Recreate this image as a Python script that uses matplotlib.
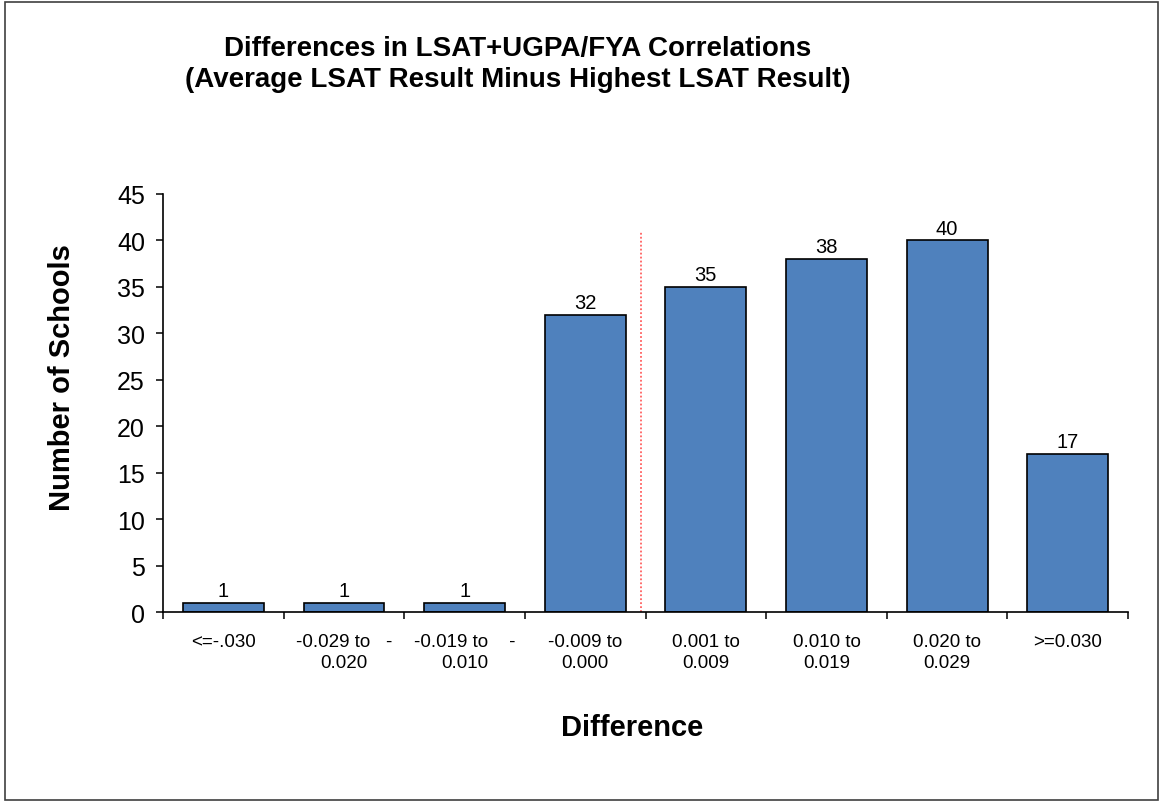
import numpy as np
import matplotlib.pyplot as plt

categories = ["<=-.030", "-0.029 to   -\n0.020", "-0.019 to    -\n0.010", "-0.009 to\n0.000",
              "0.001 to\n0.009", "0.010 to\n0.019", "0.020 to\n0.029", ">=0.030"]
counts = [1, 1, 1, 32, 35, 38, 40, 17]
yticks = [0, 5, 10, 15, 20, 25, 30, 35, 40, 45]

plt.rcParams['font.family'] = ['Liberation Sans', 'DejaVu Sans']

fig = plt.figure(figsize=(11.6, 8.03), dpi=100)
ax = fig.add_axes([0.1405, 0.2366, 0.832, 0.5206])

x = np.arange(len(categories))
bars = ax.bar(x, counts, width=0.67, color="#4F81BD", edgecolor="black", linewidth=1.2)
for b, v in zip(bars, counts):
    ax.text(b.get_x() + b.get_width() / 2, v + 0.3, str(v), ha="center", va="bottom", fontsize=14.5)

# dotted divider between negative and positive differences
ax.vlines(3.46, 0, 41, colors="#FF6060", linestyles=(0, (1, 1.2)), linewidth=1.3)

ax.set_xlim(-0.5, len(categories) - 0.5)
ax.set_ylim(0, 45)
ax.set_yticks(yticks)
ax.set_xticks(np.arange(len(categories) + 1) - 0.5, minor=False)
ax.set_xticklabels([])
ax.set_xticks(x, minor=True)
ax.set_xticklabels(categories, minor=True, fontsize=13.5, linespacing=1.35)
ax.tick_params(axis="x", which="minor", length=0, pad=15)
ax.tick_params(axis="x", which="major", length=5, direction="out", width=1.1)
ax.tick_params(axis="y", length=5, direction="out", labelsize=18, width=1.1, pad=8)

for s in ["top", "right"]:
    ax.spines[s].set_visible(False)
for s in ["left", "bottom"]:
    ax.spines[s].set_linewidth(1.2)

fig.text(62 / 1160, 1 - 378 / 803, "Number of Schools", rotation=90, ha="center", va="center",
         fontsize=21, fontweight="bold")
fig.text(632 / 1160, 1 - 728 / 803, "Difference", ha="center", va="center",
         fontsize=21, fontweight="bold")

fig.text(0.446, 0.920, "Differences in LSAT+UGPA/FYA Correlations\n(Average LSAT Result Minus Highest LSAT Result)",
         ha="center", va="center", fontsize=20, fontweight="bold", linespacing=1.25)

# outer chart frame
frame = plt.Rectangle((0.004, 0.003), 0.994, 0.993, transform=fig.transFigure,
                      fill=False, edgecolor="#404040", linewidth=1.2)
fig.patches.append(frame)

fig.savefig("out.png", dpi=100)
